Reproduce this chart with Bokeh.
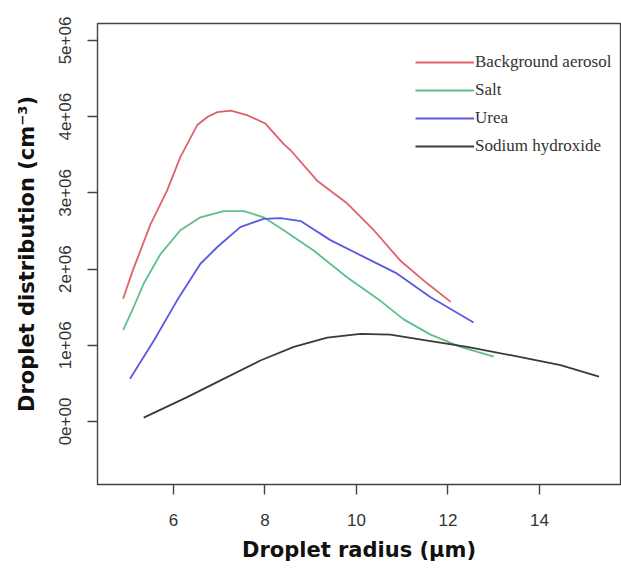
from bokeh.plotting import figure
from bokeh.models import Range1d, FixedTicker, Legend, LegendItem
from bokeh.embed import file_html
from bokeh.resources import INLINE

# ---- data ----
bg_x = [4.90, 5.11, 5.50, 5.86, 6.15, 6.52, 6.75, 6.96, 7.25, 7.61, 8.01, 8.41, 8.56,
        9.14, 9.80, 10.38, 10.96, 11.55, 12.06]
bg_y = [1.61e6, 1.98e6, 2.59e6, 3.03e6, 3.47e6, 3.89e6, 4.00e6, 4.06e6, 4.08e6, 4.02e6,
        3.91e6, 3.64e6, 3.56e6, 3.16e6, 2.86e6, 2.51e6, 2.11e6, 1.81e6, 1.57e6]

salt_x = [4.90, 5.10, 5.35, 5.72, 6.15, 6.59, 7.10, 7.54, 7.97, 8.41, 9.07, 9.80,
          10.53, 11.03, 11.62, 12.27, 13.00]
salt_y = [1.20e6, 1.46e6, 1.81e6, 2.20e6, 2.51e6, 2.68e6, 2.76e6, 2.76e6, 2.68e6,
          2.51e6, 2.24e6, 1.89e6, 1.58e6, 1.34e6, 1.14e6, 0.98e6, 0.85e6]

urea_x = [5.05, 5.57, 6.08, 6.59, 6.96, 7.46, 7.97, 8.34, 8.78, 9.43, 10.16,
          10.89, 11.62, 12.56]
urea_y = [0.56e6, 1.06e6, 1.59e6, 2.07e6, 2.29e6, 2.55e6, 2.66e6, 2.67e6, 2.63e6,
          2.38e6, 2.16e6, 1.94e6, 1.63e6, 1.30e6]

naoh_x = [5.35, 6.30, 7.03, 7.90, 8.63, 9.36, 10.09, 10.74, 11.55, 12.42, 13.37,
          14.46, 15.30]
naoh_y = [0.05e6, 0.32e6, 0.54e6, 0.80e6, 0.98e6, 1.10e6, 1.15e6, 1.14e6, 1.06e6,
          0.98e6, 0.87e6, 0.74e6, 0.59e6]

series_names = ["Background aerosol", "Salt", "Urea", "Sodium hydroxide"]
series_colors = ["#e0616b", "#5fbf8a", "#5a5ae0", "#3a3a3a"]

x_ticks = [6, 8, 10, 12, 14]
y_ticks = [0, 1e6, 2e6, 3e6, 4e6, 5e6]
y_tick_labels = ["0e+00", "1e+06", "2e+06", "3e+06", "4e+06", "5e+06"]

# ---- figure ----
p = figure(width=621, height=568, output_backend="svg", toolbar_location=None,
           x_range=Range1d(4.34, 15.77), y_range=Range1d(-0.827e6, 5.223e6),
           min_border_left=97, min_border_right=1, min_border_top=23,
           min_border_bottom=84)
p.background_fill_color = "white"
p.border_fill_color = "white"
p.outline_line_color = "#444444"
p.outline_line_width = 1.4
p.xgrid.visible = False
p.ygrid.visible = False

p.xaxis.ticker = FixedTicker(ticks=x_ticks)
p.yaxis.ticker = FixedTicker(ticks=y_ticks)
p.yaxis.major_label_overrides = {t: l for t, l in zip(y_ticks, y_tick_labels)}
p.yaxis.major_label_orientation = "vertical"

for ax in (p.xaxis, p.yaxis):
    ax.axis_line_color = None
    ax.minor_tick_line_color = None
    ax.major_tick_in = 0
    ax.major_tick_out = 10
    ax.major_tick_line_color = "#444444"
    ax.major_tick_line_width = 1.4
    ax.major_label_text_font = "Liberation Sans"
    ax.major_label_text_font_size = "17px"
    ax.major_label_text_color = "#333333"
    ax.axis_label_text_font = "DejaVu Sans"
    ax.axis_label_text_font_style = "bold"
    ax.axis_label_text_font_size = "21px"
    ax.axis_label_text_color = "#111111"

p.xaxis.major_label_standoff = 19
p.xaxis.axis_label_standoff = 9
p.yaxis.major_label_standoff = 16
p.yaxis.axis_label_standoff = 18
p.xaxis.axis_label = "Droplet radius (\u03bcm)"
p.yaxis.axis_label = "Droplet distribution (cm\u207b\u00b3)"

renderers = []
for xs, ys, c in zip([bg_x, salt_x, urea_x, naoh_x], [bg_y, salt_y, urea_y, naoh_y],
                     series_colors):
    r = p.line(xs, ys, line_color=c, line_width=1.8, line_join="round")
    renderers.append(r)

legend = Legend(items=[LegendItem(label=n, renderers=[r]) for n, r in zip(series_names, renderers)],
                location=(318, 328), orientation="vertical",
                glyph_width=59, glyph_height=20, label_height=20, spacing=8,
                label_standoff=1, padding=0, margin=0,
                border_line_alpha=0, background_fill_alpha=0,
                label_text_font="Liberation Serif", label_text_font_size="17px",
                label_text_color="#333333")
p.add_layout(legend, "center")

open("out.html", "w").write(file_html(p, INLINE))
